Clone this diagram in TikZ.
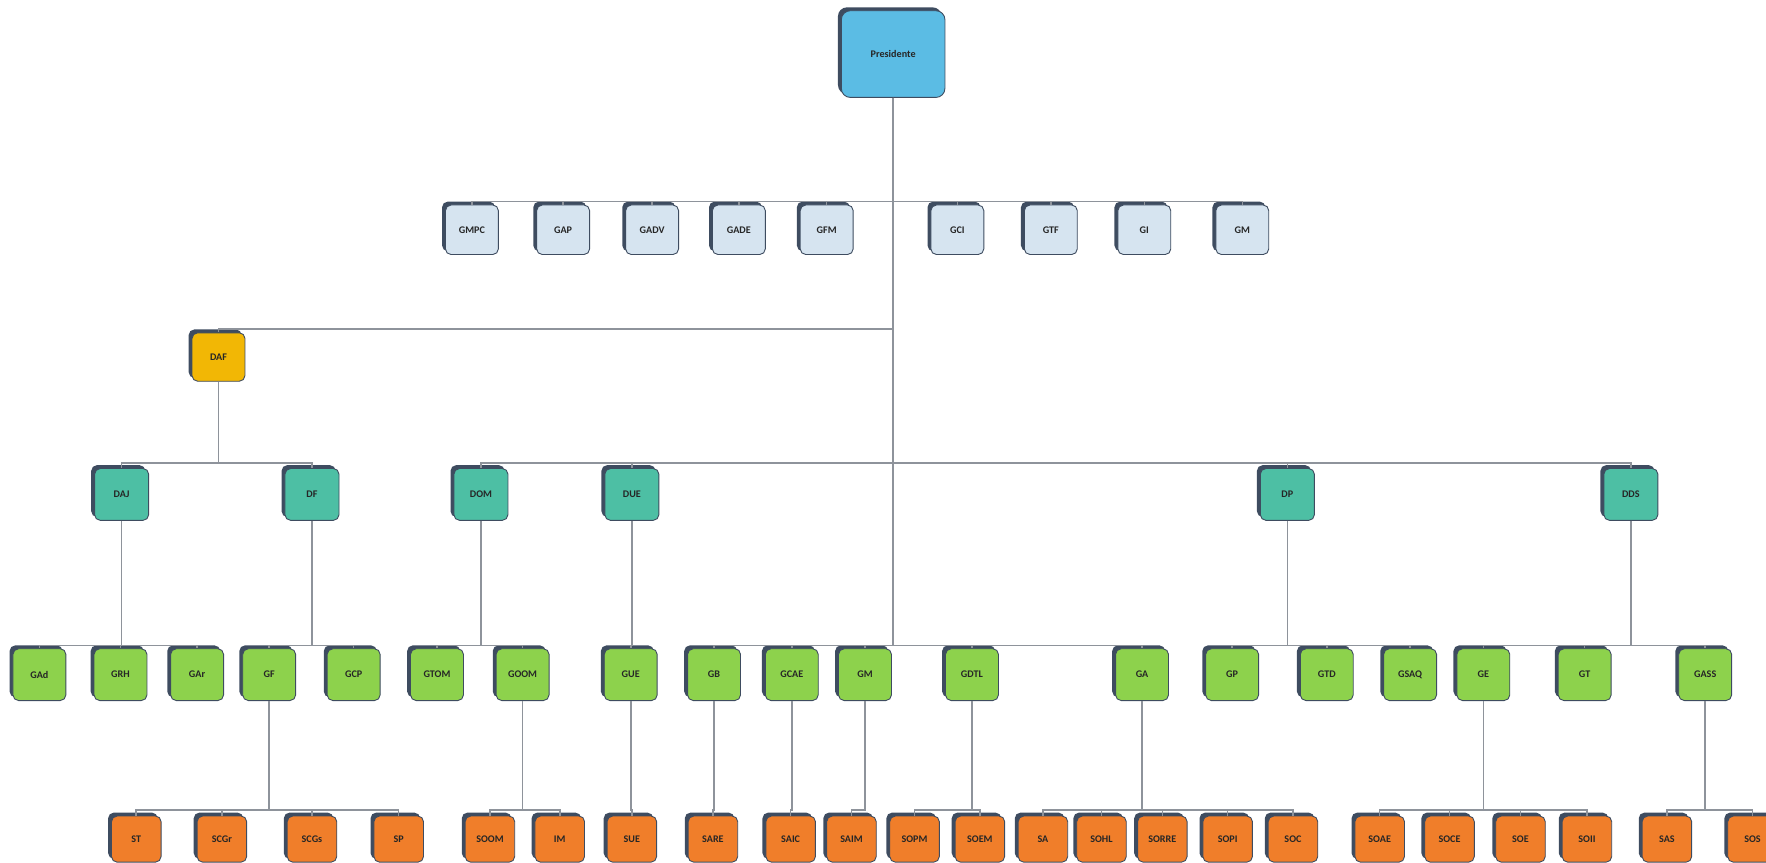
\documentclass[tikz,border=0pt]{standalone}
\usepackage{fontspec}
\setsansfont{Carlito}
\usetikzlibrary{shadows}

\definecolor{presblue}{HTML}{5BBCE4}
\definecolor{staffblue}{HTML}{D6E4F0}
\definecolor{dafyellow}{HTML}{F2B705}
\definecolor{dirteal}{HTML}{4DBFA4}
\definecolor{gergreen}{HTML}{8DD24C}
\definecolor{secorange}{HTML}{F07E2A}
\definecolor{boxedge}{HTML}{3E4C60}
\definecolor{linegray}{HTML}{8E939B}

\begin{document}
\begin{tikzpicture}[x=0.5pt, y=0.5pt,
		unit/.style={draw=boxedge, line width=0.4pt, rounded corners=2.5pt, inner sep=0pt,
			font={\sffamily\bfseries\fontsize{4.5}{5}\selectfont}, text=black!85,
			general shadow={fill=boxedge, shadow xshift=-1.5pt, shadow yshift=1.5pt}},
		pres/.style={unit, fill=presblue, rounded corners=4pt, minimum width=46pt, minimum height=38.5pt},
		staff/.style={unit, fill=staffblue, minimum width=23.5pt, minimum height=22pt},
		dafbox/.style={unit, fill=dafyellow, minimum width=23.5pt, minimum height=21.5pt},
		dir/.style={unit, fill=dirteal, minimum width=24pt, minimum height=23pt},
		ger/.style={unit, fill=gergreen, minimum width=23.5pt, minimum height=23pt},
		sec/.style={unit, fill=secorange, minimum width=22pt, minimum height=20.5pt},
		link/.style={draw=linegray, line width=0.7pt}]
		\useasboundingbox ( 0, 0 ) rectangle ( 1568, -766 );

		% уровни шин
		\coordinate (b1) at ( 0, -179 );
		\coordinate (bdaf) at ( 0, -292 );
		\coordinate (b2) at ( 0, -411 );
		\coordinate (b3) at ( 0, -573 );
		\coordinate (b4) at ( 0, -719 );

		% президент
		\node [pres] (pres) at ( 793, -48 ) {Presidente};

		% ассессоры
		\node [staff] (gmpc) at ( 419, -204 ) {GMPC};
		\node [staff] (gap) at ( 500, -204 ) {GAP};
		\node [staff] (gadv) at ( 579, -204 ) {GADV};
		\node [staff] (gade) at ( 656, -204 ) {GADE};
		\node [staff] (gfm) at ( 734, -204 ) {GFM};
		\node [staff] (gci) at ( 850, -204 ) {GCI};
		\node [staff] (gtf) at ( 933, -204 ) {GTF};
		\node [staff] (gi) at ( 1016, -204 ) {GI};
		\node [staff] (gmx) at ( 1103, -204 ) {GM};

		% DAF
		\node [dafbox] (daf) at ( 194, -317 ) {DAF};

		% дирекции
		\node [dir] (daj) at ( 108, -439 ) {DAJ};
		\node [dir] (df) at ( 277, -439 ) {DF};
		\node [dir] (dom) at ( 427, -439 ) {DOM};
		\node [dir] (due) at ( 561, -439 ) {DUE};
		\node [dir] (dp) at ( 1143, -439 ) {DP};
		\node [dir] (dds) at ( 1448, -439 ) {DDS};

		% управления
		\node [ger] (gad) at ( 35, -599 ) {GAd};
		\node [ger] (grh) at ( 107, -599 ) {GRH};
		\node [ger] (gar) at ( 175, -599 ) {GAr};
		\node [ger] (gf) at ( 239, -599 ) {GF};
		\node [ger] (gcp) at ( 314, -599 ) {GCP};
		\node [ger] (gtom) at ( 388, -599 ) {GTOM};
		\node [ger] (goom) at ( 464, -599 ) {GOOM};
		\node [ger] (gue) at ( 560, -599 ) {GUE};
		\node [ger] (gb) at ( 634, -599 ) {GB};
		\node [ger] (gcae) at ( 703, -599 ) {GCAE};
		\node [ger] (gm) at ( 768, -599 ) {GM};
		\node [ger] (gdtl) at ( 863, -599 ) {GDTL};
		\node [ger] (ga) at ( 1014, -599 ) {GA};
		\node [ger] (gp) at ( 1094, -599 ) {GP};
		\node [ger] (gtd) at ( 1178, -599 ) {GTD};
		\node [ger] (gsaq) at ( 1252, -599 ) {GSAQ};
		\node [ger] (ge) at ( 1317, -599 ) {GE};
		\node [ger] (gt) at ( 1407, -599 ) {GT};
		\node [ger] (gass) at ( 1514, -599 ) {GASS};

		% секторы
		\node [sec] (st) at ( 121, -745 ) {ST};
		\node [sec] (scgr) at ( 197, -745 ) {SCGr};
		\node [sec] (scgs) at ( 277, -745 ) {SCGs};
		\node [sec] (sp) at ( 354, -745 ) {SP};
		\node [sec] (soom) at ( 435, -745 ) {SOOM};
		\node [sec] (im) at ( 497, -745 ) {IM};
		\node [sec] (sue) at ( 561, -745 ) {SUE};
		\node [sec] (sare) at ( 633, -745 ) {SARE};
		\node [sec] (saic) at ( 702, -745 ) {SAIC};
		\node [sec] (saim) at ( 756, -745 ) {SAIM};
		\node [sec] (sopm) at ( 812, -745 ) {SOPM};
		\node [sec] (soem) at ( 870, -745 ) {SOEM};
		\node [sec] (sa) at ( 926, -745 ) {SA};
		\node [sec] (sohl) at ( 978, -745 ) {SOHL};
		\node [sec] (sorre) at ( 1032, -745 ) {SORRE};
		\node [sec] (sopi) at ( 1090, -745 ) {SOPI};
		\node [sec] (soc) at ( 1148, -745 ) {SOC};
		\node [sec] (soae) at ( 1225, -745 ) {SOAE};
		\node [sec] (soce) at ( 1287, -745 ) {SOCE};
		\node [sec] (soe) at ( 1350, -745 ) {SOE};
		\node [sec] (soii) at ( 1409, -745 ) {SOII};
		\node [sec] (sas) at ( 1480, -745 ) {SAS};
		\node [sec] (sos) at ( 1556, -745 ) {SOS};

		% связи президента
		\draw [link] (pres.south) -- (pres.south |- b1) -| (gmpc.north);
		\draw [link] (pres.south) -- (pres.south |- b1) -| (gap.north);
		\draw [link] (pres.south) -- (pres.south |- b1) -| (gadv.north);
		\draw [link] (pres.south) -- (pres.south |- b1) -| (gade.north);
		\draw [link] (pres.south) -- (pres.south |- b1) -| (gfm.north);
		\draw [link] (pres.south) -- (pres.south |- b1) -| (gci.north);
		\draw [link] (pres.south) -- (pres.south |- b1) -| (gtf.north);
		\draw [link] (pres.south) -- (pres.south |- b1) -| (gi.north);
		\draw [link] (pres.south) -- (pres.south |- b1) -| (gmx.north);
		\draw [link] (pres.south) -- (pres.south |- bdaf) -| (daf.north);
		\draw [link] (pres.south) -- (pres.south |- b2) -| (dom.north);
		\draw [link] (pres.south) -- (pres.south |- b2) -| (due.north);
		\draw [link] (pres.south) -- (pres.south |- b2) -| (dp.north);
		\draw [link] (pres.south) -- (pres.south |- b2) -| (dds.north);
		\draw [link] (pres.south) -- (pres.south |- b3) -| (gb.north);
		\draw [link] (pres.south) -- (pres.south |- b3) -| (gcae.north);
		\draw [link] (pres.south) -- (pres.south |- b3) -| (gm.north);
		\draw [link] (pres.south) -- (pres.south |- b3) -| (gdtl.north);
		\draw [link] (pres.south) -- (pres.south |- b3) -| (ga.north);

		% связи DAF
		\draw [link] (daf.south) -- (daf.south |- b2) -| (daj.north);
		\draw [link] (daf.south) -- (daf.south |- b2) -| (df.north);

		% связи дирекций
		\draw [link] (daj.south) -- (daj.south |- b3) -| (gad.north);
		\draw [link] (daj.south) -- (daj.south |- b3) -| (grh.north);
		\draw [link] (daj.south) -- (daj.south |- b3) -| (gar.north);
		\draw [link] (df.south) -- (df.south |- b3) -| (gf.north);
		\draw [link] (df.south) -- (df.south |- b3) -| (gcp.north);
		\draw [link] (dom.south) -- (dom.south |- b3) -| (gtom.north);
		\draw [link] (dom.south) -- (dom.south |- b3) -| (goom.north);
		\draw [link] (due.south) -- (due.south |- b3) -| (gue.north);
		\draw [link] (dp.south) -- (dp.south |- b3) -| (gp.north);
		\draw [link] (dp.south) -- (dp.south |- b3) -| (gtd.north);
		\draw [link] (dp.south) -- (dp.south |- b3) -| (gsaq.north);
		\draw [link] (dds.south) -- (dds.south |- b3) -| (ge.north);
		\draw [link] (dds.south) -- (dds.south |- b3) -| (gt.north);
		\draw [link] (dds.south) -- (dds.south |- b3) -| (gass.north);

		% связи управлений
		\draw [link] (gf.south) -- (gf.south |- b4) -| (st.north);
		\draw [link] (gf.south) -- (gf.south |- b4) -| (scgr.north);
		\draw [link] (gf.south) -- (gf.south |- b4) -| (scgs.north);
		\draw [link] (gf.south) -- (gf.south |- b4) -| (sp.north);
		\draw [link] (goom.south) -- (goom.south |- b4) -| (soom.north);
		\draw [link] (goom.south) -- (goom.south |- b4) -| (im.north);
		\draw [link] (gue.south) -- (gue.south |- b4) -| (sue.north);
		\draw [link] (gb.south) -- (gb.south |- b4) -| (sare.north);
		\draw [link] (gcae.south) -- (gcae.south |- b4) -| (saic.north);
		\draw [link] (gm.south) -- (gm.south |- b4) -| (saim.north);
		\draw [link] (gdtl.south) -- (gdtl.south |- b4) -| (sopm.north);
		\draw [link] (gdtl.south) -- (gdtl.south |- b4) -| (soem.north);
		\draw [link] (ga.south) -- (ga.south |- b4) -| (sa.north);
		\draw [link] (ga.south) -- (ga.south |- b4) -| (sohl.north);
		\draw [link] (ga.south) -- (ga.south |- b4) -| (sorre.north);
		\draw [link] (ga.south) -- (ga.south |- b4) -| (sopi.north);
		\draw [link] (ga.south) -- (ga.south |- b4) -| (soc.north);
		\draw [link] (ge.south) -- (ge.south |- b4) -| (soae.north);
		\draw [link] (ge.south) -- (ge.south |- b4) -| (soce.north);
		\draw [link] (ge.south) -- (ge.south |- b4) -| (soe.north);
		\draw [link] (ge.south) -- (ge.south |- b4) -| (soii.north);
		\draw [link] (gass.south) -- (gass.south |- b4) -| (sas.north);
		\draw [link] (gass.south) -- (gass.south |- b4) -| (sos.north);
	\end{tikzpicture}
\end{document}
